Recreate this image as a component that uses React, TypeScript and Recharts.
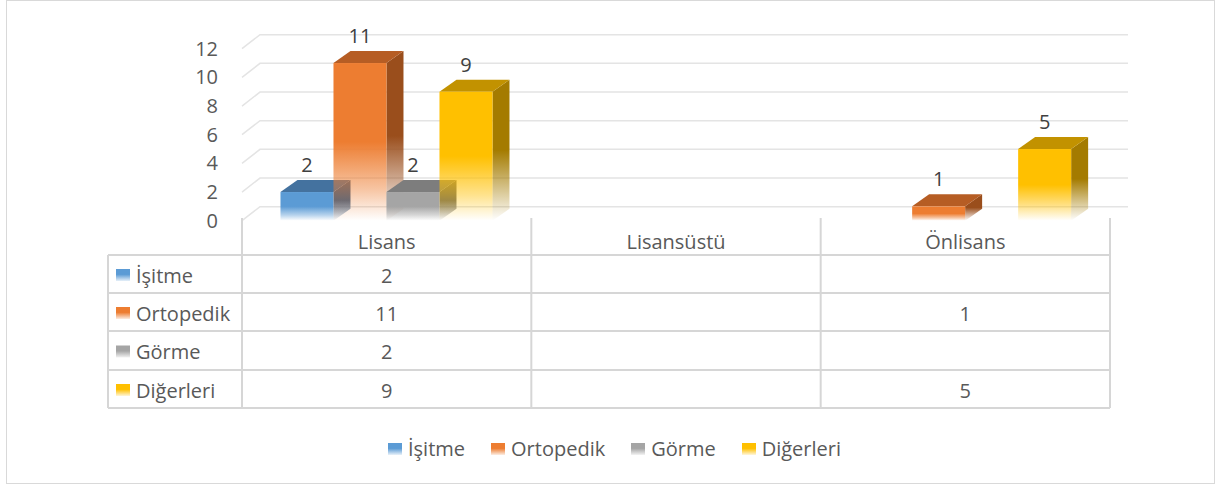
import { BarChart, Bar, XAxis, YAxis, CartesianGrid, Legend, LabelList } from 'recharts';

const categories = ['Lisans', 'Lisansüstü', 'Önlisans'];
const isitme = [2, null, null];
const ortopedik = [11, null, 1];
const gorme = [2, null, null];
const digerleri = [9, null, 5];
const yTicks = [0, 2, 4, 6, 8, 10, 12];

const seriesNames = ['İşitme', 'Ortopedik', 'Görme', 'Diğerleri'];
const seriesKeys = ['isitme', 'ortopedik', 'gorme', 'digerleri'];
const seriesValues = [isitme, ortopedik, gorme, digerleri];

const COLORS: Record<string, { front: string; top: string; side: string }> = {
  isitme: { front: '#5b9bd5', top: '#44729f', side: '#3a628a' },
  ortopedik: { front: '#ed7d31', top: '#b65d24', side: '#9a4e1c' },
  gorme: { front: '#a5a5a5', top: '#7d7d7d', side: '#6b6b6b' },
  digerleri: { front: '#ffc000', top: '#c29200', side: '#a47b00' },
};

const W = 1217;
const H = 490;
const PLOT_LEFT = 242;
const PLOT_RIGHT = 1110;
const PLOT_TOP = 48.7;
const PLOT_BOTTOM = 220.7;
const BAR_DX = 17;
const BAR_DY = 12;
const WALL_DX = 18;
const WALL_DY = 14;
const TEXT = '#595959';
const FONT = '"Open Sans", sans-serif';

const TABLE_LEFT = 108;
const TABLE_HEADER_TOP = 218;
const ROW_LINES = [255, 293, 331, 370, 408];

const chartData = categories.map((name, i) => {
  const row: Record<string, string | number | null> = { name };
  seriesKeys.forEach((k, s) => {
    row[k] = seriesValues[s][i];
  });
  return row;
});

function renderWallLine(p: any) {
  const d = `M${p.x1},${p.y1}L${p.x1 + WALL_DX},${p.y1 - WALL_DY}L${p.x2 + WALL_DX},${p.y1 - WALL_DY}`;
  return <path key={`wall-${p.index}`} d={d} stroke="#e4e4e4" strokeWidth={1.5} fill="none" />;
}

function Bar3D(props: any) {
  const { x, y, width, height, k, payload } = props;
  if (payload?.[k] == null || !height || height <= 0) return null;
  const c = COLORS[k];
  const top = `${x},${y} ${x + BAR_DX},${y - BAR_DY} ${x + width + BAR_DX},${y - BAR_DY} ${x + width},${y}`;
  const side = `${x + width},${y} ${x + width + BAR_DX},${y - BAR_DY} ${x + width + BAR_DX},${y + height - BAR_DY} ${x + width},${y + height}`;
  return (
    <g>
      <polygon points={side} fill={`url(#side-${k})`} />
      <polygon points={top} fill={c.top} />
      <rect x={x} y={y} width={width} height={height} fill={`url(#front-${k})`} />
    </g>
  );
}

function renderValueLabel(props: any) {
  const { x, y, width, value } = props;
  if (value == null) return null;
  return (
    <text x={x + width / 2} y={y - 20} textAnchor="middle" fill="#404040" fontSize={20}>
      {value}
    </text>
  );
}

function Swatch({ color }: { color: string }) {
  return (
    <span
      style={{
        display: 'inline-block',
        width: 14,
        height: 12,
        marginRight: 6,
        background: `linear-gradient(${color} 45%, ${color}22 100%)`,
      }}
    />
  );
}

function LegendRow() {
  return (
    <div style={{ display: 'flex', justifyContent: 'center', alignItems: 'center', height: 26, paddingLeft: 12 }}>
      {seriesKeys.map((k, i) => (
        <div key={k} style={{ display: 'flex', alignItems: 'center', marginRight: i < 3 ? 26 : 0 }}>
          <Swatch color={COLORS[k].front} />
          <span style={{ fontSize: 20, color: TEXT, lineHeight: '26px' }}>{seriesNames[i]}</span>
        </div>
      ))}
    </div>
  );
}

function DataTable() {
  const band = (PLOT_RIGHT - PLOT_LEFT) / categories.length;
  const colX = categories.map((_, i) => PLOT_LEFT + i * band).concat(PLOT_RIGHT);
  const line = '#d6d6d6';
  return (
    <svg width={W} height={H} style={{ position: 'absolute', left: 0, top: 0, pointerEvents: 'none' }}>
      {colX.map((cx, i) => (
        <line key={`v${i}`} x1={cx} x2={cx} y1={TABLE_HEADER_TOP} y2={ROW_LINES[ROW_LINES.length - 1]} stroke={line} strokeWidth={2} />
      ))}
      <line x1={TABLE_LEFT} x2={TABLE_LEFT} y1={ROW_LINES[0]} y2={ROW_LINES[ROW_LINES.length - 1]} stroke={line} strokeWidth={2} />
      {ROW_LINES.map((ry, i) => (
        <line key={`h${i}`} x1={TABLE_LEFT} x2={PLOT_RIGHT} y1={ry} y2={ry} stroke={line} strokeWidth={2} />
      ))}
      {seriesKeys.map((k, s) => {
        const cy = (ROW_LINES[s] + ROW_LINES[s + 1]) / 2 + 1;
        return (
          <g key={k}>
            <rect x={116} y={cy - 6} width={14} height={12} fill={`url(#swatch-${k})`} />
            <text x={136} y={cy} dominantBaseline="central" fontSize={20} fill={TEXT}>
              {seriesNames[s]}
            </text>
            {seriesValues[s].map((v, i) => (
              <text
                key={i}
                x={PLOT_LEFT + (i + 0.5) * band}
                y={cy}
                textAnchor="middle"
                dominantBaseline="central"
                fontSize={20}
                fill={TEXT}
              >
                {v == null ? '' : v}
              </text>
            ))}
          </g>
        );
      })}
    </svg>
  );
}

export default function App() {
  return (
    <div style={{ position: 'absolute', left: 0, top: 0, width: W, height: H, fontFamily: FONT, background: '#fff' }}>
      <svg width={0} height={0} style={{ position: 'absolute' }}>
        <defs>
          {seriesKeys.map((k) => (
            <g key={k}>
              <linearGradient id={`front-${k}`} x1="0" y1="0" x2="0" y2="1">
                <stop offset="0" stopColor={COLORS[k].front} stopOpacity={1} />
                <stop offset="0.5" stopColor={COLORS[k].front} stopOpacity={1} />
                <stop offset="0.8" stopColor={COLORS[k].front} stopOpacity={0.45} />
                <stop offset="1" stopColor={COLORS[k].front} stopOpacity={0} />
              </linearGradient>
              <linearGradient id={`side-${k}`} x1="0" y1="0" x2="0" y2="1">
                <stop offset="0" stopColor={COLORS[k].side} stopOpacity={1} />
                <stop offset="0.5" stopColor={COLORS[k].side} stopOpacity={1} />
                <stop offset="0.8" stopColor={COLORS[k].side} stopOpacity={0.4} />
                <stop offset="1" stopColor={COLORS[k].side} stopOpacity={0} />
              </linearGradient>
              <linearGradient id={`swatch-${k}`} x1="0" y1="0" x2="0" y2="1">
                <stop offset="0.45" stopColor={COLORS[k].front} stopOpacity={1} />
                <stop offset="1" stopColor={COLORS[k].front} stopOpacity={0.15} />
              </linearGradient>
            </g>
          ))}
        </defs>
      </svg>
      <div
        style={{
          position: 'absolute',
          left: 6,
          top: 0,
          width: 1209,
          height: 484,
          border: '1px solid #d9d9d9',
          boxSizing: 'border-box',
        }}
      />
      <BarChart
        width={W}
        height={H}
        data={chartData}
        margin={{ top: PLOT_TOP, right: W - PLOT_RIGHT, bottom: H - PLOT_BOTTOM - 30, left: 0 }}
        barCategoryGap="13.3%"
        barGap={0}
      >
        <CartesianGrid vertical={false} horizontal={renderWallLine} />
        <XAxis
          dataKey="name"
          height={30}
          axisLine={false}
          tickLine={false}
          tickSize={0}
          tickMargin={14}
          interval={0}
          tick={{ fill: TEXT, fontSize: 20 }}
        />
        <YAxis
          width={PLOT_LEFT}
          domain={[0, 12]}
          ticks={yTicks}
          axisLine={false}
          tickLine={false}
          tickSize={0}
          tickMargin={24}
          tick={{ fill: TEXT, fontSize: 20 }}
        />
        <Legend
          verticalAlign="middle"
          align="center"
          layout="horizontal"
          wrapperStyle={{ top: 436, left: 0, width: W, height: 26 }}
          content={() => <LegendRow />}
        />
        {seriesKeys.map((k, i) => (
          <Bar
            key={k}
            dataKey={k}
            name={seriesNames[i]}
            fill={COLORS[k].front}
            isAnimationActive={false}
            shape={(p: any) => <Bar3D {...p} k={k} />}
          >
            <LabelList dataKey={k} content={renderValueLabel} />
          </Bar>
        ))}
      </BarChart>
      <DataTable />
    </div>
  );
}
